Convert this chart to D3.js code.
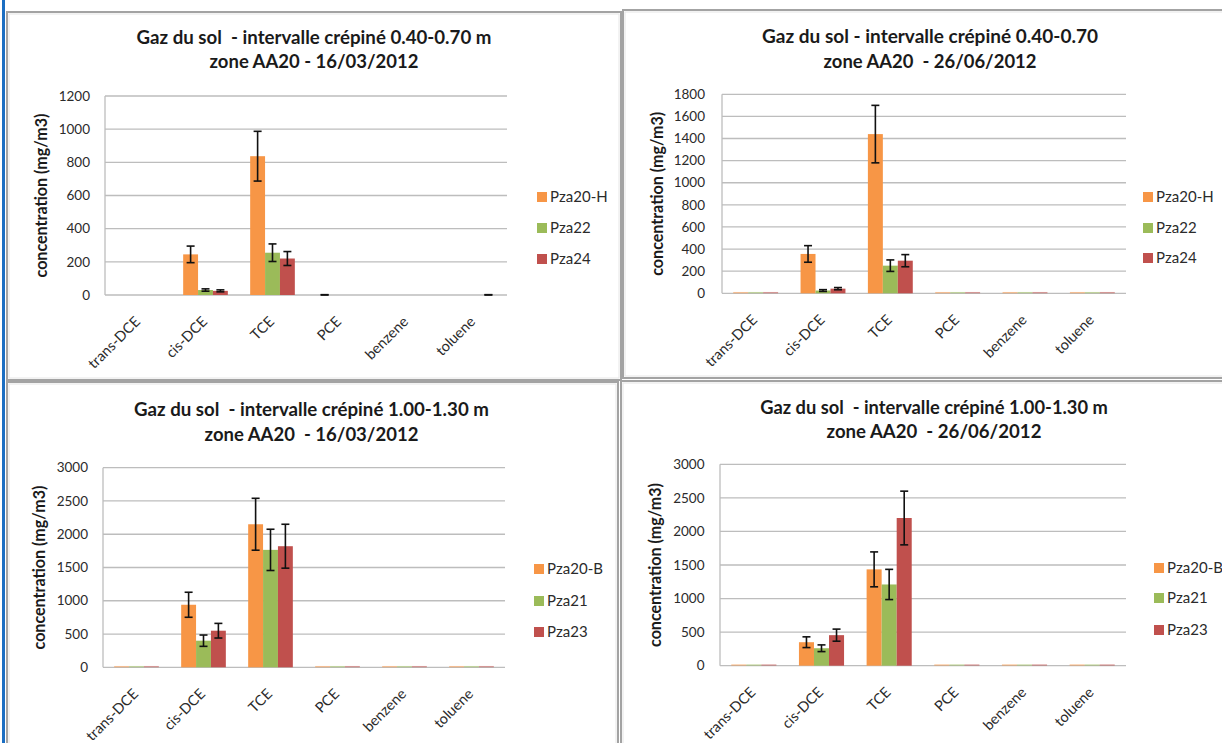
<!DOCTYPE html>
<html>
<head>
<meta charset="utf-8">
<script src="https://cdn.jsdelivr.net/npm/d3@7"></script>
<style>
  body { margin: 0; background: #fff; }
  svg text { white-space: pre; }
</style>
</head>
<body>
<svg id="chart" width="1222" height="743"></svg>
<script>
// catégories communes aux 4 graphiques
const categories = ['trans-DCE', 'cis-DCE', 'TCE', 'PCE', 'benzene', 'toluene'];

// 0.40-0.70 m - 16/03/2012
const seriesA = ['Pza20-H', 'Pza22', 'Pza24'];
const valuesA = [
  [0, 245, 837, 0, 0, 0],
  [0, 30, 255, 0, 0, 0],
  [0, 25, 220, 0, 0, 0]
];
const errorsA = [
  [0, 50, 150, 2, 0, 0],
  [0, 7, 53, 0, 0, 0],
  [0, 6, 42, 0, 0, 2]
];

// 0.40-0.70 - 26/06/2012
const seriesB = ['Pza20-H', 'Pza22', 'Pza24'];
const valuesB = [
  [12, 356, 1440, 12, 12, 12],
  [12, 25, 250, 12, 12, 12],
  [12, 42, 295, 12, 12, 12]
];
const errorsB = [
  [0, 75, 260, 0, 0, 0],
  [0, 8, 52, 0, 0, 0],
  [0, 10, 55, 0, 0, 0]
];

// 1.00-1.30 m - 16/03/2012
const seriesC = ['Pza20-B', 'Pza21', 'Pza23'];
const valuesC = [
  [20, 940, 2150, 20, 20, 20],
  [20, 400, 1765, 20, 20, 20],
  [20, 550, 1820, 20, 20, 20]
];
const errorsC = [
  [0, 188, 390, 0, 0, 0],
  [0, 85, 310, 0, 0, 0],
  [0, 110, 330, 0, 0, 0]
];

// 1.00-1.30 m - 26/06/2012
const seriesD = ['Pza20-B', 'Pza21', 'Pza23'];
const valuesD = [
  [20, 350, 1435, 20, 20, 20],
  [20, 260, 1210, 20, 20, 20],
  [20, 455, 2200, 20, 20, 20]
];
const errorsD = [
  [0, 80, 260, 0, 0, 0],
  [0, 50, 225, 0, 0, 0],
  [0, 90, 400, 0, 0, 0]
];

const titlesA = ['Gaz du sol  - intervalle crépiné 0.40-0.70 m', 'zone AA20 - 16/03/2012'];
const titlesB = ['Gaz du sol - intervalle crépiné 0.40-0.70', 'zone AA20  - 26/06/2012'];
const titlesC = ['Gaz du sol  - intervalle crépiné 1.00-1.30 m', 'zone AA20  - 16/03/2012'];
const titlesD = ['Gaz du sol  - intervalle crépiné 1.00-1.30 m', 'zone AA20  - 26/06/2012'];

const colors = ['#F79646', '#9BBB59', '#C0504D'];
const fontFamily = "Lato, 'Open Sans', sans-serif";

const svg = d3.select('#chart');

// barre bleue à gauche
svg.append('rect').attr('x', 2).attr('y', 0).attr('width', 3).attr('height', 743).attr('fill', '#1b6ec2');

// mise en page des 4 cadres
const panels = [
  {
    frame: [7, 12, 614, 368], titles: titlesA, titleX: 314, titleY: [44, 68], titleW: [355, 209],
    plot: [105, 507, 96, 295], max: 1200, step: 200, yTitleX: 41, tickX: 90,
    legendX: 537, legendY: [197, 228, 259],
    series: seriesA, values: valuesA, errors: errorsA
  },
  {
    frame: [623, 10, 606, 368], titles: titlesB, titleX: 930, titleY: [43, 68], titleW: [336, 213],
    plot: [722, 1126, 94.3, 293.3], max: 1800, step: 200, yTitleX: 657, tickX: 705,
    legendX: 1143, legendY: [197, 228, 258],
    series: seriesB, values: valuesB, errors: errorsB
  },
  {
    frame: [7, 382, 611, 370], titles: titlesC, titleX: 311.5, titleY: [416, 441], titleW: [355, 214],
    plot: [103, 505, 467.7, 667.3], max: 3000, step: 500, yTitleX: 39.5, tickX: 88,
    legendX: 534, legendY: [569, 601, 632],
    series: seriesC, values: valuesC, errors: errorsC
  },
  {
    frame: [621, 381, 610, 370], titles: titlesD, titleX: 934, titleY: [414, 438], titleW: [348, 215],
    plot: [720, 1126, 464.3, 665.7], max: 3000, step: 500, yTitleX: 655, tickX: 704.5,
    legendX: 1154, legendY: [568, 598, 630],
    series: seriesD, values: valuesD, errors: errorsD
  }
];

// ajuste la taille de police pour obtenir une largeur donnée
function fitText (sel, width) {
  const w = sel.node().getComputedTextLength();
  const fs = parseFloat(sel.attr('font-size'));
  sel.attr('font-size', fs * width / w);
}

panels.forEach(p => {
  const g = svg.append('g');
  const [fx, fy, fw, fh] = p.frame;

  // cadre
  g.append('rect')
    .attr('x', fx).attr('y', fy).attr('width', fw).attr('height', fh)
    .attr('fill', '#fff').attr('stroke', '#a3a3a3').attr('stroke-width', 2);
  g.append('rect')
    .attr('x', fx + 2).attr('y', fy + 2).attr('width', fw - 4).attr('height', fh - 4)
    .attr('fill', 'none').attr('stroke', '#e6e6e6').attr('stroke-width', 1);

  // titre
  p.titles.forEach((t, i) => {
    const txt = g.append('text')
      .attr('x', p.titleX).attr('y', p.titleY[i])
      .attr('text-anchor', 'middle')
      .attr('font-family', fontFamily).attr('font-weight', 'bold')
      .attr('font-size', 15).attr('fill', '#1a1a1a')
      .text(t);
    fitText(txt, p.titleW[i]);
  });

  const [x0, x1, yTop, yBottom] = p.plot;
  const x = d3.scaleBand().domain(categories).range([x0, x1]).paddingInner(1 / 3).paddingOuter(1 / 6);
  const xs = d3.scaleBand().domain(d3.range(p.series.length)).range([0, x.bandwidth()]);
  const y = d3.scaleLinear().domain([0, p.max]).range([yBottom, yTop]);

  // grille
  const ticks = d3.range(0, p.max + 1, p.step);
  g.append('g').selectAll('line').data(ticks).join('line')
    .attr('x1', x0).attr('x2', x1)
    .attr('y1', d => y(d)).attr('y2', d => y(d))
    .attr('stroke', '#bdbdbd').attr('stroke-width', 1.3);
  g.append('line')
    .attr('x1', x0).attr('x2', x0).attr('y1', yTop).attr('y2', yBottom)
    .attr('stroke', '#bdbdbd').attr('stroke-width', 1.3);

  // graduations
  g.append('g').selectAll('text').data(ticks).join('text')
    .attr('x', p.tickX).attr('y', d => y(d)).attr('dy', '0.35em')
    .attr('text-anchor', 'end')
    .attr('font-family', fontFamily).attr('font-size', 13.5).attr('fill', '#2b2b2b')
    .text(d => d);

  // titre de l'axe y
  const yt = g.append('text')
    .attr('transform', `translate(${p.yTitleX},${(yTop + yBottom) / 2}) rotate(-90)`)
    .attr('text-anchor', 'middle').attr('dy', '0.35em')
    .attr('font-family', fontFamily).attr('font-weight', 'bold')
    .attr('font-size', 13).attr('fill', '#1a1a1a')
    .text('concentration (mg/m3)');
  fitText(yt, 164);

  // étiquettes des catégories
  g.append('g').selectAll('text').data(categories).join('text')
    .attr('transform', d => `translate(${x(d) + x.bandwidth() / 2 - 1},${yBottom + 24}) rotate(-45)`)
    .attr('text-anchor', 'end').attr('dy', '0.35em')
    .attr('font-family', fontFamily).attr('font-size', 14.5).attr('fill', '#2b2b2b')
    .text(d => d);

  // barres
  p.series.forEach((s, si) => {
    const sg = g.append('g');
    sg.selectAll('rect').data(categories).join('rect')
      .attr('x', d => x(d) + xs(si))
      .attr('width', xs.bandwidth())
      .attr('y', (d, ci) => y(p.values[si][ci]))
      .attr('height', (d, ci) => yBottom - y(p.values[si][ci]))
      .attr('fill', colors[si])
      .attr('opacity', (d, ci) => p.values[si][ci] < 30 && ci !== 1 ? 0.55 : 1);
  });

  // barres d'erreur
  p.series.forEach((s, si) => {
    categories.forEach((c, ci) => {
      const e = p.errors[si][ci];
      if (!e) return;
      const v = p.values[si][ci];
      const cx = x(c) + xs(si) + xs.bandwidth() / 2;
      const eb = g.append('g').attr('stroke', '#111').attr('stroke-width', 1.6);
      eb.append('line').attr('x1', cx).attr('x2', cx).attr('y1', y(v + e)).attr('y2', y(Math.max(0, v - e)));
      eb.append('line').attr('x1', cx - 4).attr('x2', cx + 4).attr('y1', y(v + e)).attr('y2', y(v + e));
      eb.append('line').attr('x1', cx - 4).attr('x2', cx + 4).attr('y1', y(Math.max(0, v - e))).attr('y2', y(Math.max(0, v - e)));
    });
  });

  // légende
  p.series.forEach((s, si) => {
    g.append('rect')
      .attr('x', p.legendX).attr('y', p.legendY[si] - 5).attr('width', 10).attr('height', 10)
      .attr('fill', colors[si]);
    g.append('text')
      .attr('x', p.legendX + 13).attr('y', p.legendY[si]).attr('dy', '0.35em')
      .attr('font-family', fontFamily).attr('font-size', 15).attr('fill', '#2b2b2b')
      .text(s);
  });
});
</script>
</body>
</html>
